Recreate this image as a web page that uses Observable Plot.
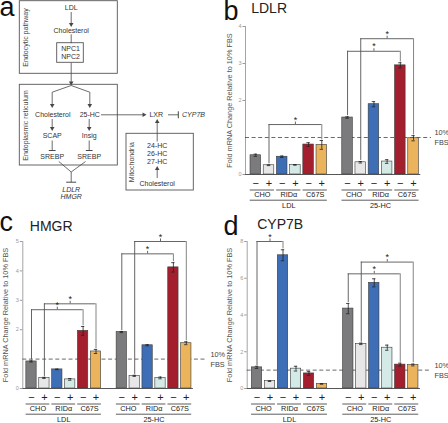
<!DOCTYPE html>
<html><head><meta charset="utf-8">
<script src="https://cdn.jsdelivr.net/npm/d3@7"></script>
<script src="https://cdn.jsdelivr.net/npm/@observablehq/plot@0.6"></script>
<style>
body{margin:0;background:#fff}
#fig{position:relative;width:448px;height:423px;overflow:hidden;font-family:"Liberation Sans",Arial,sans-serif}
.panel{position:absolute}
.panel svg{overflow:visible}
</style>
</head><body><div id="fig"></div>
<script>
// ---------- data ----------
const groups = ["LDL", "25-HC"];
const cellLines = ["CHO", "RIDα", "C67S"];
const signs = ["−", "+"];
const barColors = ["#7b7b7e", "#e7e7e8", "#3e6eb5", "#d4eae7", "#a41f2e", "#ecb35d"];

// b: LDLR
const ldlrLDL = [0.52, 0.25, 0.48, 0.26, 0.81, 0.80];
const ldlrLDLerr = [0.03, 0.01, 0.02, 0.01, 0.05, 0.12];
const ldlr25HC = [1.54, 0.33, 1.90, 0.35, 2.95, 0.98];
const ldlr25HCerr = [0.02, 0.02, 0.07, 0.05, 0.07, 0.07];
const ldlrBrackets = [
  {from: 1, to: 5, level: 1.35, a: 0.29, b: 0.94},
  {from: 6, to: 10, level: 3.33, a: 1.59, b: 3.04},
  {from: 7, to: 11, level: 3.67, a: 0.38, b: 1.07}
];
// c: HMGR
const hmgrLDL = [0.92, 0.36, 0.65, 0.31, 1.96, 1.26];
const hmgrLDLerr = [0.02, 0.02, 0.01, 0.03, 0.15, 0.07];
const hmgr25HC = [1.92, 0.43, 1.47, 0.36, 4.12, 1.54];
const hmgr25HCerr = [0.02, 0.02, 0.02, 0.03, 0.16, 0.05];
const hmgrBrackets = [
  {from: 0, to: 4, level: 2.68, a: 0.97, b: 2.14},
  {from: 1, to: 5, level: 2.88, a: 0.41, b: 1.36},
  {from: 6, to: 10, level: 4.58, a: 1.97, b: 4.31},
  {from: 7, to: 11, level: 5.0, a: 0.48, b: 1.62}
];
// d: CYP7B
const cyp7bLDL = [1.15, 0.40, 7.25, 1.08, 0.82, 0.25];
const cyp7bLDLerr = [0.06, 0.02, 0.30, 0.13, 0.10, 0.02];
const cyp7b25HC = [4.35, 2.43, 5.75, 2.22, 1.30, 1.28];
const cyp7b25HCerr = [0.28, 0.04, 0.22, 0.14, 0.08, 0.05];
const cyp7bBrackets = [
  {from: 0, to: 2, level: 8.0, a: 1.25, b: 7.6},
  {from: 6, to: 10, level: 6.24, a: 4.68, b: 1.42},
  {from: 7, to: 11, level: 6.88, a: 2.52, b: 1.4}
];

// a: schematic
const diagramBoxes = [
  {x1: 19.3, x2: 117.3, y1: 0.7, y2: 73.3},
  {x1: 56.7, x2: 83.3, y1: 42.7, y2: 62.3},
  {x1: 19.3, x2: 117.3, y1: 84.3, y2: 165},
  {x1: 126, x2: 193.3, y1: 133.3, y2: 190}
];
const diagramLabels = [
  {t: "LDL", x: 70.7, y: 7.3}, {t: "Cholesterol", x: 70.7, y: 30.7},
  {t: "NPC1", x: 70, y: 48.5}, {t: "NPC2", x: 70, y: 56.3},
  {t: "Cholesterol", x: 52.3, y: 114.3}, {t: "25-HC", x: 89.3, y: 114.3},
  {t: "SCAP", x: 51.7, y: 135.7}, {t: "Insig", x: 88.7, y: 135.7},
  {t: "SREBP", x: 51.7, y: 156}, {t: "SREBP", x: 88.7, y: 156},
  {t: "LXR", x: 155.7, y: 114.3},
  {t: "24-HC", x: 156.7, y: 145}, {t: "26-HC", x: 156.7, y: 153.3}, {t: "27-HC", x: 156.7, y: 161.7},
  {t: "Cholesterol", x: 156.7, y: 183.3}
];
const diagramItalic = [
  {t: "LDLR", x: 70.7, y: 189.3}, {t: "HMGR", x: 70.7, y: 196.7}, {t: "CYP7B", x: 193, y: 114.3}
];
const diagramVertical = [
  {t: "Endocytic pathway", x: 25, y: 37}, {t: "Endoplasmic reticulum", x: 25, y: 125},
  {t: "Mitochondria", x: 131.7, y: 161.7}
];
const diagramArrows = [
  {x1: 70.7, y1: 11.5, x2: 70.7, y2: 26.5},
  {x1: 70.7, y1: 62.3, x2: 70.7, y2: 85},
  {x1: 51.7, y1: 91.7, x2: 51.7, y2: 107.5},
  {x1: 89.3, y1: 91.7, x2: 89.3, y2: 107.5},
  {x1: 51.7, y1: 118.5, x2: 51.7, y2: 130.5},
  {x1: 88.7, y1: 118.5, x2: 88.7, y2: 130.5},
  {x1: 100.5, y1: 114.3, x2: 146, y2: 114.3},
  {x1: 156.7, y1: 141, x2: 156.7, y2: 118.5},
  {x1: 156.7, y1: 177.5, x2: 156.7, y2: 165.5}
];
const diagramLines = [
  {x1: 70.7, y1: 33.8, x2: 70.7, y2: 42.7},
  {x1: 70.7, y1: 85, x2: 51.7, y2: 91.7},
  {x1: 70.7, y1: 85, x2: 89.3, y2: 91.7},
  {x1: 58.3, y1: 161, x2: 70.7, y2: 171.5},
  {x1: 85, y1: 161, x2: 70.7, y2: 171.5},
  {x1: 70.7, y1: 171.5, x2: 70.7, y2: 181.7}
];
const diagramInhibit = [
  {x1: 51.7, y1: 140, x2: 51.7, y2: 150, bx1: 48.3, by1: 150, bx2: 55.1, by2: 150},
  {x1: 88.7, y1: 140, x2: 88.7, y2: 150, bx1: 85.3, by1: 150, bx2: 92.1, by2: 150},
  {x1: 70.7, y1: 181.7, x2: 70.7, y2: 181.7, bx1: 65.7, by1: 181.7, bx2: 75.7, by2: 181.7},
  {x1: 167.5, y1: 114.3, x2: 177.8, y2: 114.3, bx1: 177.8, by1: 110.8, bx2: 177.8, by2: 117.8}
];

// ---------- rendering ----------
const FONT = '"Liberation Sans", Arial, Helvetica, sans-serif';
const fig = document.getElementById("fig");

function place(node, left, top) {
  const d = document.createElement("div");
  d.className = "panel";
  d.style.left = left + "px";
  d.style.top = top + "px";
  d.appendChild(node);
  fig.appendChild(d);
}

function diagram() {
  const ink = "#474747";
  const headR = 1.7;
  // centroid offset of a d3 triangle symbol from its tip
  const area = Math.PI * headR * headR;
  const side = Math.sqrt(4 * area / Math.sqrt(3));
  const tipOff = side * Math.sqrt(3) / 3;
  const heads = diagramArrows.map(a => {
    const dx = a.x2 - a.x1, dy = a.y2 - a.y1, L = Math.hypot(dx, dy);
    const ux = dx / L, uy = dy / L;
    return {x: a.x2 - ux * tipOff, y: a.y2 - uy * tipOff, rot: Math.atan2(ux, -uy) * 180 / Math.PI};
  });
  const shafts = diagramArrows.map(a => {
    const dx = a.x2 - a.x1, dy = a.y2 - a.y1, L = Math.hypot(dx, dy);
    return {x1: a.x1, y1: a.y1, x2: a.x2 - dx / L * tipOff, y2: a.y2 - dy / L * tipOff};
  });
  return Plot.plot({
    width: 224, height: 215, margin: 0,
    style: {fontFamily: FONT, background: "transparent"},
    x: {domain: [0, 224], range: [0, 224], axis: null},
    y: {domain: [0, 215], range: [0, 215], axis: null},
    marks: [
      Plot.text(["a"], {frameAnchor: "top-left", dx: -1, dy: 15.5, textAnchor: "start", lineAnchor: "bottom", fontSize: 27, fill: "#111"}),
      Plot.rect(diagramBoxes, {x1: "x1", x2: "x2", y1: "y1", y2: "y2", fill: "none", stroke: "#555", strokeWidth: 0.9}),
      Plot.link(diagramLines, {x1: "x1", y1: "y1", x2: "x2", y2: "y2", stroke: ink, strokeWidth: 0.8}),
      Plot.link(shafts, {x1: "x1", y1: "y1", x2: "x2", y2: "y2", stroke: ink, strokeWidth: 0.8}),
      Plot.dot(heads, {x: "x", y: "y", r: headR, symbol: "triangle", rotate: "rot", fill: ink, stroke: "none"}),
      Plot.link(diagramInhibit, {x1: "x1", y1: "y1", x2: "x2", y2: "y2", stroke: ink, strokeWidth: 0.8}),
      Plot.link(diagramInhibit, {x1: "bx1", y1: "by1", x2: "bx2", y2: "by2", stroke: ink, strokeWidth: 1}),
      Plot.text(diagramLabels, {x: "x", y: "y", text: "t", fontSize: 7, fill: "#333"}),
      Plot.text(diagramItalic, {x: "x", y: "y", text: "t", fontSize: 7, fontStyle: "italic", fill: "#333"}),
      Plot.text(diagramVertical, {x: "x", y: "y", text: "t", fontSize: 7, rotate: -90, fill: "#444"})
    ]
  });
}

function barPanel(cfg) {
  const W = 224, H = cfg.height;
  const marginLeft = cfg.axisX, marginRight = 17, marginTop = 26, marginBottom = H - cfg.y0;
  const dMin = -(cfg.first - marginLeft) / cfg.pitch;
  const dMax = dMin + (W - marginRight - marginLeft) / cfg.pitch;
  const unit = (cfg.y0 - marginTop) / cfg.yMax;
  const posOf = i => (i % 6) + Math.floor(i / 6) * cfg.gap;
  const rows = [];
  groups.forEach((g, gi) => {
    cfg.values[gi].forEach((v, k) => {
      rows.push({group: g, k, cell: Math.floor(k / 2), sign: k % 2, value: v,
                 err: cfg.errs[gi][k], pos: posOf(gi * 6 + k), color: barColors[k]});
    });
  });
  const pairs = [];
  groups.forEach((g, gi) => cellLines.forEach((c, ci) => {
    const p0 = posOf(gi * 6 + ci * 2), p1 = posOf(gi * 6 + ci * 2 + 1);
    pairs.push({label: c, x1: p0 - 0.42, x2: p1 + 0.42, mid: (p0 + p1) / 2});
  }));
  const grp = groups.map((g, gi) => {
    const p0 = posOf(gi * 6), p1 = posOf(gi * 6 + 5);
    return {label: g, x1: p0 - 0.42, x2: p1 + 0.42, mid: (p0 + p1) / 2};
  });
  const lastPos = posOf(11);
  const br = cfg.brackets.map(b => ({...b, x1: posOf(b.from), x2: posOf(b.to), mid: (posOf(b.from) + posOf(b.to)) / 2}));
  const line = "#555";
  return Plot.plot({
    width: W, height: H, marginLeft, marginRight, marginTop, marginBottom,
    style: {fontFamily: FONT, background: "transparent"},
    x: {domain: [dMin, dMax], axis: null},
    y: {domain: [0, cfg.yMax]},
    color: {type: "identity"},
    marks: [
      Plot.axisY({ticks: cfg.ticks, tickSize: 2.5, tickPadding: 1.5, fontSize: 5.5, color: "#9a9a9a", label: null, tickFormat: d => String(d)}),
      Plot.ruleX([dMin], {y1: 0, y2: cfg.yMax, stroke: "#9a9a9a", strokeWidth: 0.9}),
      Plot.ruleY([1], {stroke: "#444", strokeWidth: 0.8, strokeDasharray: "4,2.6"}),
      Plot.rect(rows, {x1: d => d.pos - 0.4, x2: d => d.pos + 0.4, y1: 0, y2: "value", fill: "color", stroke: "#3a3a3a", strokeWidth: 0.6}),
      Plot.ruleY([0], {x1: dMin, x2: lastPos + 0.55, stroke: "#444", strokeWidth: 0.9}),
      Plot.ruleX(rows, {x: "pos", y1: d => d.value - d.err, y2: d => d.value + d.err, stroke: "#222", strokeWidth: 0.8}),
      Plot.ruleY(rows, {y: d => d.value + d.err, x1: d => d.pos - 0.13, x2: d => d.pos + 0.13, stroke: "#222", strokeWidth: 0.8}),
      Plot.ruleY(rows, {y: d => d.value - d.err, x1: d => d.pos - 0.13, x2: d => d.pos + 0.13, stroke: "#222", strokeWidth: 0.8}),
      // significance brackets
      Plot.ruleY(br, {y: "level", x1: "x1", x2: "x2", stroke: line, strokeWidth: 0.9}),
      Plot.ruleX(br, {x: "x1", y1: "a", y2: "level", stroke: line, strokeWidth: 0.9}),
      Plot.ruleX(br, {x: "x2", y1: "b", y2: "level", stroke: "#777", strokeWidth: 0.9}),
      Plot.ruleX(br, {x: "mid", y1: "level", y2: d => d.level + 2.5 / unit, stroke: line, strokeWidth: 0.9}),
      Plot.text(br, {x: "mid", y: "level", text: () => "*", dy: -1.8, lineAnchor: "bottom", fontSize: 9, fill: "#222"}),
      // category labels below the axis
      Plot.text(rows, {x: "pos", text: d => signs[d.sign], frameAnchor: "bottom", dy: 8.7, lineAnchor: "middle", fontSize: 11, fill: "#222"}),
      Plot.ruleY(pairs, {y: () => 0, x1: "x1", x2: "x2", dy: 15.5, stroke: "#333", strokeWidth: 0.8}),
      Plot.text(pairs, {x: "mid", text: "label", frameAnchor: "bottom", dy: 20.5, lineAnchor: "middle", fontSize: 7.3, fill: "#222"}),
      Plot.ruleY(grp, {y: () => 0, x1: "x1", x2: "x2", dy: 25.7, stroke: "#333", strokeWidth: 0.8}),
      Plot.text(grp, {x: "mid", text: "label", frameAnchor: "bottom", dy: 31.5, lineAnchor: "middle", fontSize: 7.3, fill: "#222"}),
      // reference line label
      Plot.text(["10%"], {y: () => 1, frameAnchor: "right", textAnchor: "start", dx: 3, dy: -4.6, lineAnchor: "middle", fontSize: 7.3, fill: "#444"}),
      Plot.text(["FBS"], {y: () => 1, frameAnchor: "right", textAnchor: "start", dx: 3, dy: 5.2, lineAnchor: "middle", fontSize: 7.3, fill: "#444"}),
      // axis title
      Plot.text(["Fold mRNA Change Relative to 10% FBS"], {frameAnchor: "left", textAnchor: "middle", dx: -(marginLeft - 5), rotate: -90, fontSize: 7.3, fill: "#555"}),
      // panel title and letter
      Plot.text([cfg.title], {frameAnchor: "top-left", dx: cfg.titleX - marginLeft, dy: cfg.titleBase - marginTop, textAnchor: "start", lineAnchor: "bottom", fontSize: 14, fill: "#222"}),
      Plot.text([cfg.letter], {frameAnchor: "top-left", dx: -marginLeft - 1, dy: cfg.letterBase - marginTop, textAnchor: "start", lineAnchor: "bottom", fontSize: 27, fill: "#111"})
    ]
  });
}

place(diagram(), 0, 0);
place(barPanel({title: "LDLR", letter: "b", height: 215, y0: 174, yMax: 4, ticks: [0, 2, 3, 4],
  axisX: 21, first: 31.3, pitch: 13.2, gap: 6.95, titleX: 26.7, titleBase: 12.3, letterBase: 19.3,
  values: [ldlrLDL, ldlr25HC], errs: [ldlrLDLerr, ldlr25HCerr], brackets: ldlrBrackets}), 224, 0);
place(barPanel({title: "HMGR", letter: "c", height: 208, y0: 173, yMax: 5, ticks: [0, 2, 3, 4, 5],
  axisX: 22.3, first: 31, pitch: 12.9, gap: 7.0, titleX: 29.3, titleBase: 15, letterBase: 15.5,
  values: [hmgrLDL, hmgr25HC], errs: [hmgrLDLerr, hmgr25HCerr], brackets: hmgrBrackets}), 0, 215);
place(barPanel({title: "CYP7B", letter: "d", height: 208, y0: 173, yMax: 8, ticks: [0, 2, 4, 6, 8],
  axisX: 22.7, first: 32.5, pitch: 13.0, gap: 7.02, titleX: 32.7, titleBase: 13.3, letterBase: 19.3,
  values: [cyp7bLDL, cyp7b25HC], errs: [cyp7bLDLerr, cyp7b25HCerr], brackets: cyp7bBrackets}), 224, 215);
</script>
</body></html>
